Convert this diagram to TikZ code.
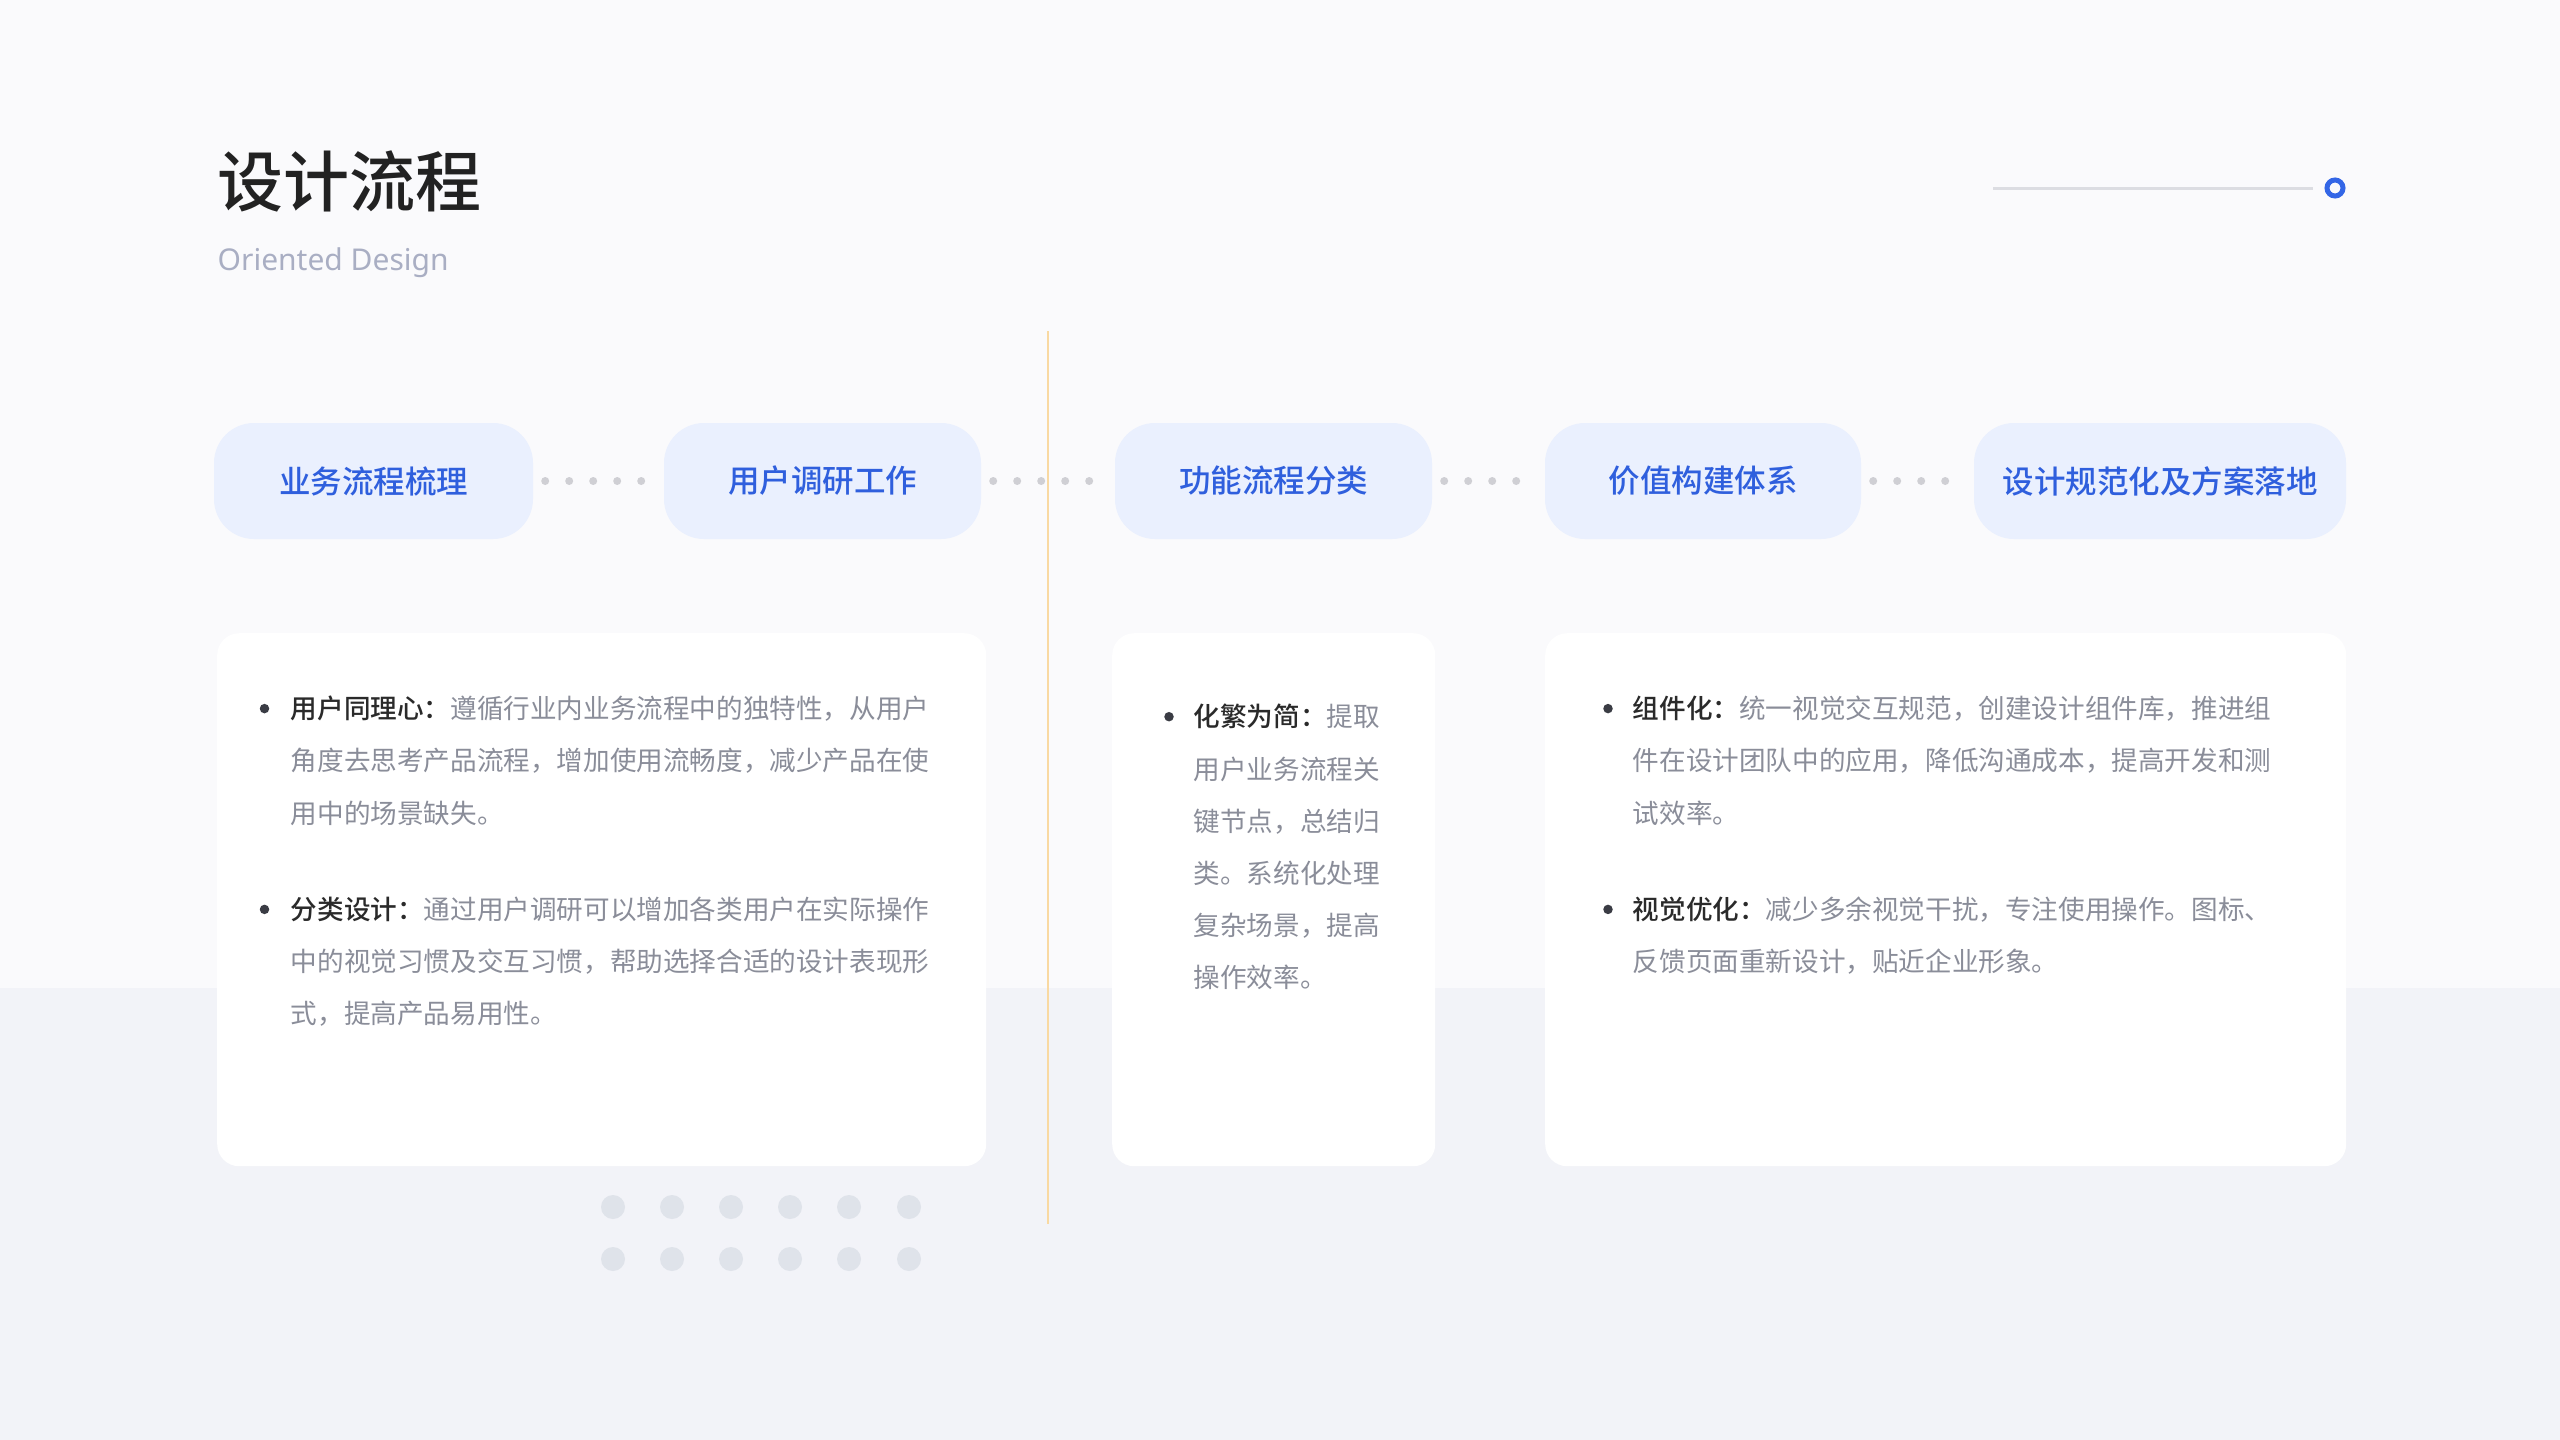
\documentclass[tikz,border=0pt]{standalone}
\usepackage{fontspec}
\usepackage{xcolor}
\usepackage{tikz}
\setmainfont{Noto Sans CJK SC}
\newfontfamily\latinfont{Noto Sans}
\IfFontExistsTF{Noto Sans CJK SC Medium}
  {\newfontfamily\mediumfont{Noto Sans CJK SC Medium}}
  {\newcommand\mediumfont{\bfseries}}
\definecolor{pagetop}{HTML}{FAFAFC}
\definecolor{pagebottom}{HTML}{F2F3F8}
\definecolor{pillfill}{HTML}{EAF0FE}
\definecolor{pillblue}{HTML}{2F5FDD}
\definecolor{linkgrey}{HTML}{CFCFD4}
\definecolor{griddot}{HTML}{DFE3EA}
\definecolor{axisorange}{HTML}{F9D9A2}
\definecolor{titledark}{HTML}{222222}
\definecolor{subgrey}{HTML}{A9AEC3}
\definecolor{bodygrey}{HTML}{8A8D99}
\definecolor{labeldark}{HTML}{2A2A2A}
\definecolor{bulletgrey}{HTML}{3A3C44}
\definecolor{decoline}{HTML}{DCDDE2}
\definecolor{ringblue}{HTML}{3366E6}

\begin{document}
\begin{tikzpicture}[x=1pt, y=-1pt,
  pill/.style={rectangle, rounded corners=40pt, fill=pillfill, minimum height=116pt,
    text=pillblue, font=\fontsize{31.5}{36}\selectfont\mediumfont},
  card/.style={rectangle, rounded corners=22pt, fill=white, minimum height=533pt,
    anchor=north west, inner sep=0pt},
  link/.style={draw=linkgrey, line width=8pt, line cap=round,
    dash pattern=on 0pt off 24pt, shorten <=12pt, shorten >=22pt},
  bullet/.style={circle, fill=bulletgrey, minimum size=9.5pt, inner sep=0pt},
  para/.style={anchor=base west, align=left, inner sep=0pt, text=bodygrey,
    font=\fontsize{26.6}{52.2}\selectfont}]
  \useasboundingbox (0,0) rectangle (2560,1440);
  \fill[pagetop] (0,0) rectangle (2560,1440);
  \fill[pagebottom] (0,988) rectangle (2560,1440);

  \node[anchor=base west, inner sep=0pt, text=titledark,
    font=\fontsize{66}{70}\selectfont\mediumfont] (title) at (217,206) {设计流程};
  \node[anchor=base west, inner sep=0pt, text=subgrey,
    font=\latinfont\fontsize{30}{34}\selectfont] (subtitle) at (217.5,270) {Oriented Design};

  \coordinate (decostart) at (1993,188);
  \node[circle, draw=ringblue, line width=5pt, fill=pagetop, minimum size=16pt,
    inner sep=0pt] (ring) at (2335,188) {};
  \draw[decoline, line width=3pt, shorten >=11.5pt] (decostart) -- (ring);

  \node[card, minimum width=769pt] (card1) at (217,633) {};
  \node[card, minimum width=323pt] (card2) at (1112,633) {};
  \node[card, minimum width=801pt] (card3) at (1545,633) {};

  \foreach \x in {613,672,731,790,849,909}
    \foreach \y in {1207,1259}
      \fill[griddot] (\x,\y) circle (12pt);

  \node[pill, minimum width=319pt] (p1) at (373.5,481) {业务流程梳理};
  \node[pill, minimum width=317pt] (p2) at (822.5,481) {用户调研工作};
  \node[pill, minimum width=317pt] (p3) at (1273.5,481) {功能流程分类};
  \node[pill, minimum width=316pt] (p4) at (1703,481) {价值构建体系};
  \node[pill, minimum width=372pt] (p5) at (2160,481) {设计规范化及方案落地};
  \draw[link] (p1) -- (p2);
  \draw[link] (p2) -- (p3);
  \draw[link] (p3) -- (p4);
  \draw[link] (p4) -- (p5);

  \draw[axisorange, line width=2.5pt] (1048,331) -- (1048,1224);

  \node[bullet] (b1) at (264.5,708.6) {};
  \node[para] (t1) at (290.6,823.1) {{\color{labeldark}\mediumfont 用户同理心：}遵循行业内业务流程中的独特性，从用户\\角度去思考产品流程，增加使用流畅度，减少产品在使\\用中的场景缺失。};
  \node[bullet] (b2) at (264.5,909.4) {};
  \node[para] (t2) at (290.6,1023.9) {{\color{labeldark}\mediumfont 分类设计：}通过用户调研可以增加各类用户在实际操作\\中的视觉习惯及交互习惯，帮助选择合适的设计表现形\\式，提高产品易用性。};

  \node[bullet] (b3) at (1169,716.7) {};
  \node[para] (t3) at (1193.5,987.8) {{\color{labeldark}\mediumfont 化繁为简：}提取\\用户业务流程关\\键节点，总结归\\类。系统化处理\\复杂场景，提高\\操作效率。};

  \node[bullet] (b4) at (1608,708.6) {};
  \node[para] (t4) at (1632.7,823.1) {{\color{labeldark}\mediumfont 组件化：}统一视觉交互规范，创建设计组件库，推进组\\件在设计团队中的应用，降低沟通成本，提高开发和测\\试效率。};
  \node[bullet] (b5) at (1608,909.4) {};
  \node[para] (t5) at (1632.7,971.7) {{\color{labeldark}\mediumfont 视觉优化：}减少多余视觉干扰，专注使用操作。图标、\\反馈页面重新设计，贴近企业形象。};
\end{tikzpicture}
\end{document}
